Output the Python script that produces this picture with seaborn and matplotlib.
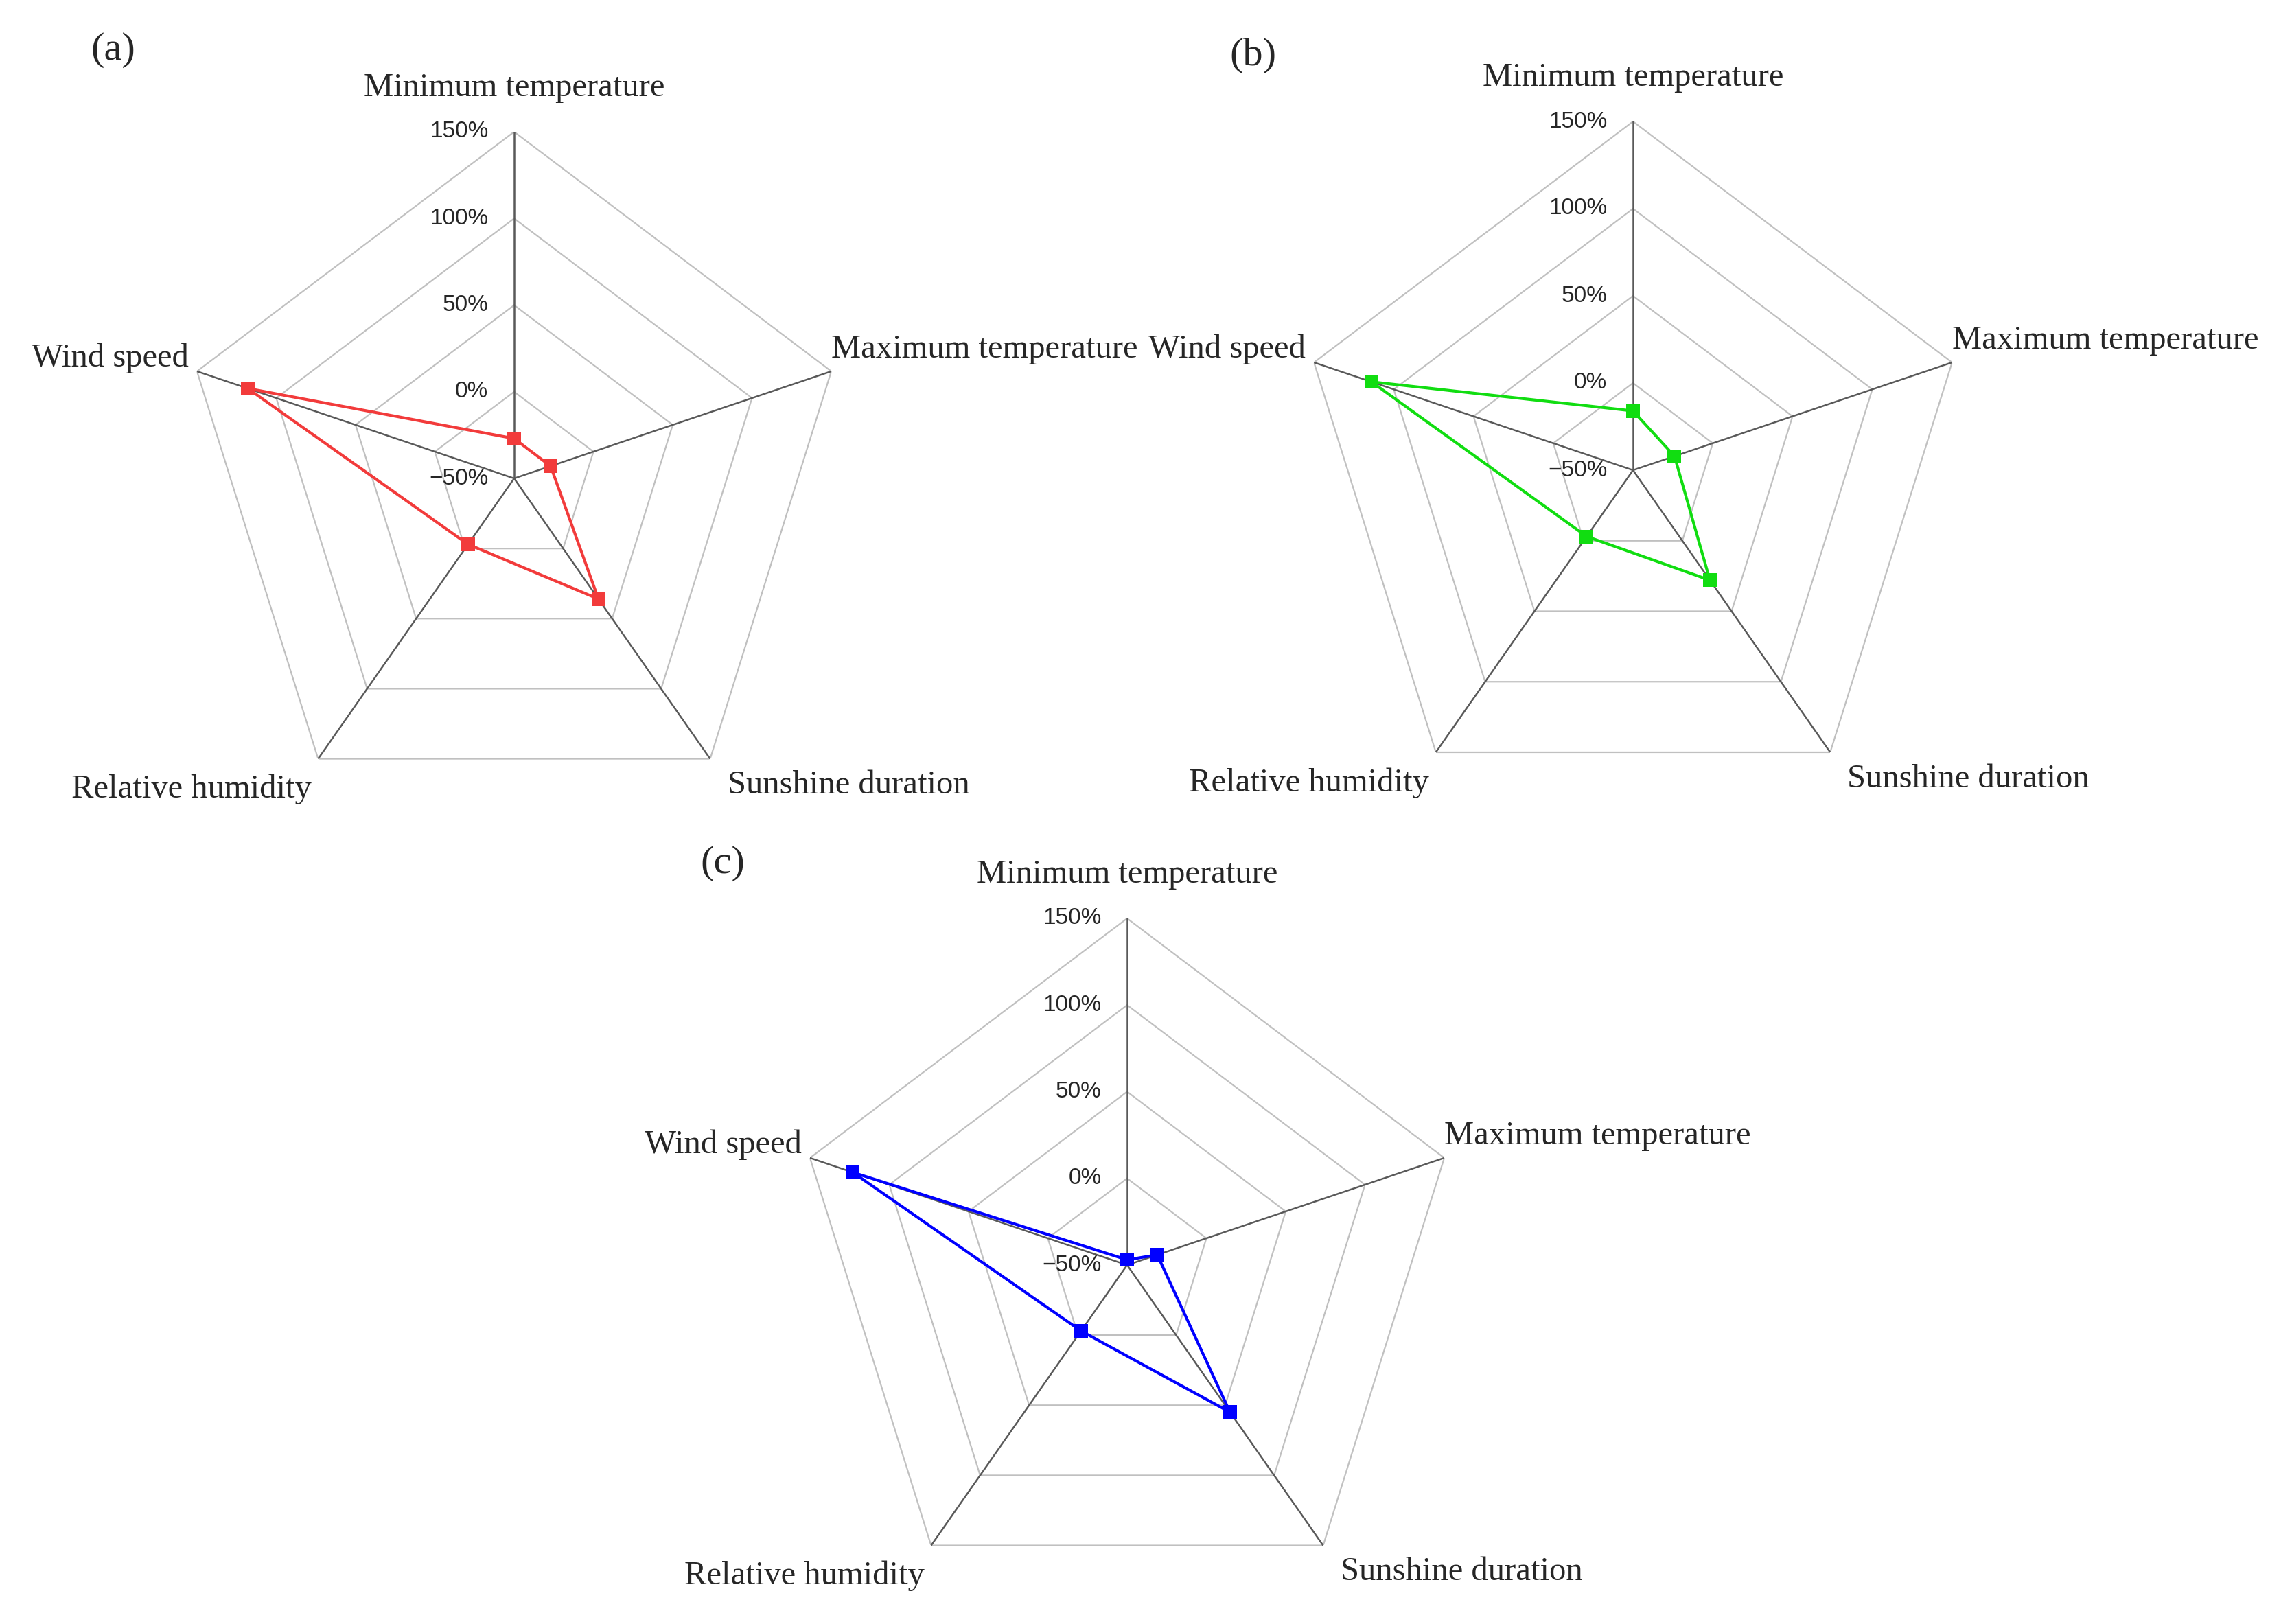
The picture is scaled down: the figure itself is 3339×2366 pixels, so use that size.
import numpy as np
import matplotlib
matplotlib.use('Agg')
import matplotlib.pyplot as plt
import seaborn as sns

# ---------------- datos ----------------
categorias = ['Minimum temperature', 'Maximum temperature', 'Sunshine duration',
              'Relative humidity', 'Wind speed']
valores_a = [-27, -27, 36, -3, 118]
valores_b = [-16, -24, 28, -3, 114]
valores_c = [-47, -31, 55, -3, 123]
anillos = [-50, 0, 50, 100, 150]
etiquetas_anillos = ['\u221250%', '0%', '50%', '100%', '150%']

sns.set_style('white')
plt.rcParams['font.family'] = ['Liberation Serif', 'DejaVu Serif']

W, H = 3339, 2366
DPI = 200
fig = plt.figure(figsize=(W / DPI, H / DPI), dpi=DPI)

angulos = np.deg2rad([0, 72, 144, 216, 288])
COMPRESION_X = 0.962  # el pentagono original esta algo estrechado

# (offset x, offset y en puntos, ha) para cada etiqueta de categoria
pos_etiquetas = [(0, 23, 'center'), (0, 11.5, 'left'), (9, -14, 'left'),
                 (-3.5, -16, 'right'), (-4.5, 7, 'right')]


def dibujar_radar(cx, cy, R, valores, color):
    Rx = R * COMPRESION_X
    rect = [(cx - Rx) / W, 1 - (cy + R) / H, 2 * Rx / W, 2 * R / H]
    ax = fig.add_axes(rect, projection='polar')
    ax.set_aspect('auto')
    ax.set_theta_zero_location('N')
    ax.set_theta_direction(-1)
    ax.set_ylim(-50, 150)
    ax.grid(False)
    ax.spines['polar'].set_visible(False)
    ax.set_xticks([])
    ax.set_yticks([])
    ax.patch.set_alpha(0)

    theta_cerrado = np.append(angulos, 2 * np.pi)
    # anillos pentagonales
    for r in anillos[1:]:
        ax.plot(theta_cerrado, [r] * 6, color='#c0c0c0', lw=0.8, zorder=1)
    # radios
    for t in angulos:
        ax.plot([t, t], [-50, 150], color='#595959', lw=0.9, zorder=2)

    sns.lineplot(x=theta_cerrado, y=list(valores) + [valores[0]], ax=ax,
                 sort=False, estimator=None, color=color, lw=1.5,
                 marker='s', markersize=7, markeredgecolor=color,
                 markeredgewidth=0, zorder=3)

    for t, cat, (dx, dy, ha) in zip(angulos, categorias, pos_etiquetas):
        ax.annotate(cat, xy=(t, 150), xytext=(dx, dy), textcoords='offset points',
                    ha=ha, va='center', fontsize=17.5, annotation_clip=False)

    for r, lab in zip(anillos, etiquetas_anillos):
        ax.annotate(lab, xy=(0, r), xytext=(-13.5, 0), textcoords='offset points',
                    ha='right', va='center', fontsize=12,
                    family=['Liberation Sans', 'DejaVu Sans'], annotation_clip=False)
    return ax


dibujar_radar(749, 697, 505, valores_a, '#f23b3b')
dibujar_radar(2379, 685, 508, valores_b, '#11dd11')
dibujar_radar(1642, 1843, 505, valores_c, '#0000ff')

fig.text(165 / W, 1 - 73 / H, '(a)', fontsize=21, ha='center', va='center')
fig.text(1825 / W, 1 - 81 / H, '(b)', fontsize=21, ha='center', va='center')
fig.text(1053 / W, 1 - 1258 / H, '(c)', fontsize=21, ha='center', va='center')

fig.savefig('out.png', dpi=DPI, facecolor='white')
